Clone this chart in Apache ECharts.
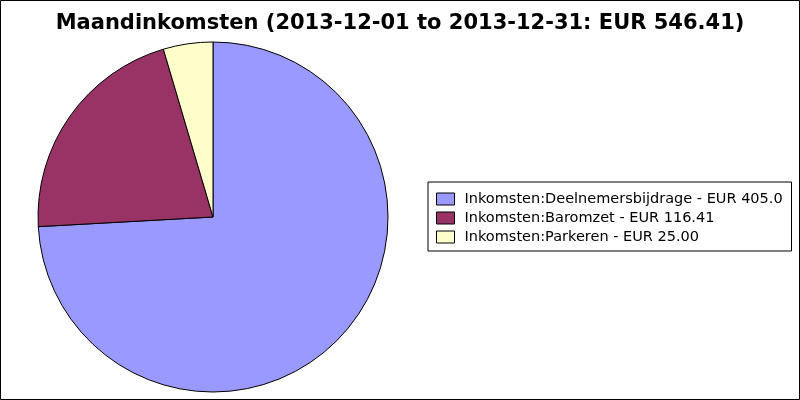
<!DOCTYPE html>
<html><head><meta charset="utf-8">
<script src="https://cdn.jsdelivr.net/npm/echarts@6/dist/echarts.min.js"></script>
<style>html,body{margin:0;padding:0;background:#fff}#c{width:800px;height:400px}</style>
</head><body><div id="c"></div>
<script>
const titleText = 'Maandinkomsten (2013-12-01 to 2013-12-31: EUR 546.41)';
const categories = ['Inkomsten:Deelnemersbijdrage', 'Inkomsten:Baromzet', 'Inkomsten:Parkeren'];
const values = [405.00, 116.41, 25.00];
const colors = ['#9999ff', '#993366', '#ffffcc'];

const data = categories.map((c, i) => ({ name: c, value: values[i], itemStyle: { color: colors[i] } }));
const legendNames = {};
categories.forEach((c, i) => { legendNames[c] = c + ' - EUR ' + values[i].toFixed(2); });

const chart = echarts.init(document.getElementById('c'));
chart.setOption({
  animation: false,
  title: {
    text: titleText, left: 'center', top: 8,
    textStyle: { fontFamily: 'DejaVu Sans', fontWeight: 'bold', fontSize: 21, color: '#000' }
  },
  legend: {
    orient: 'vertical', left: 428, top: 182,
    padding: [9, 5, 6, 8],
    borderColor: '#000', borderWidth: 1,
    itemWidth: 18, itemHeight: 12, itemGap: 3,
    icon: 'rect',
    itemStyle: { borderColor: '#000', borderWidth: 1 },
    formatter: n => legendNames[n],
    textStyle: { fontFamily: 'DejaVu Sans', fontSize: 14.5, color: '#000', lineHeight: 16,
      width: 322, overflow: 'truncate', ellipsis: '', padding: [0, 0, 0, 5] },
    data: categories
  },
  graphic: [{ type: 'rect', shape: { x: 0.5, y: 0.5, width: 799, height: 399 },
    style: { fill: 'none', stroke: '#000', lineWidth: 1 }, silent: true }],
  series: [{
    type: 'pie', center: [213, 217], radius: 175, startAngle: 90, clockwise: true,
    label: { show: false }, labelLine: { show: false },
    itemStyle: { borderColor: '#000', borderWidth: 1 },
    emphasis: { disabled: true },
    data: data
  }]
});
</script></body></html>
